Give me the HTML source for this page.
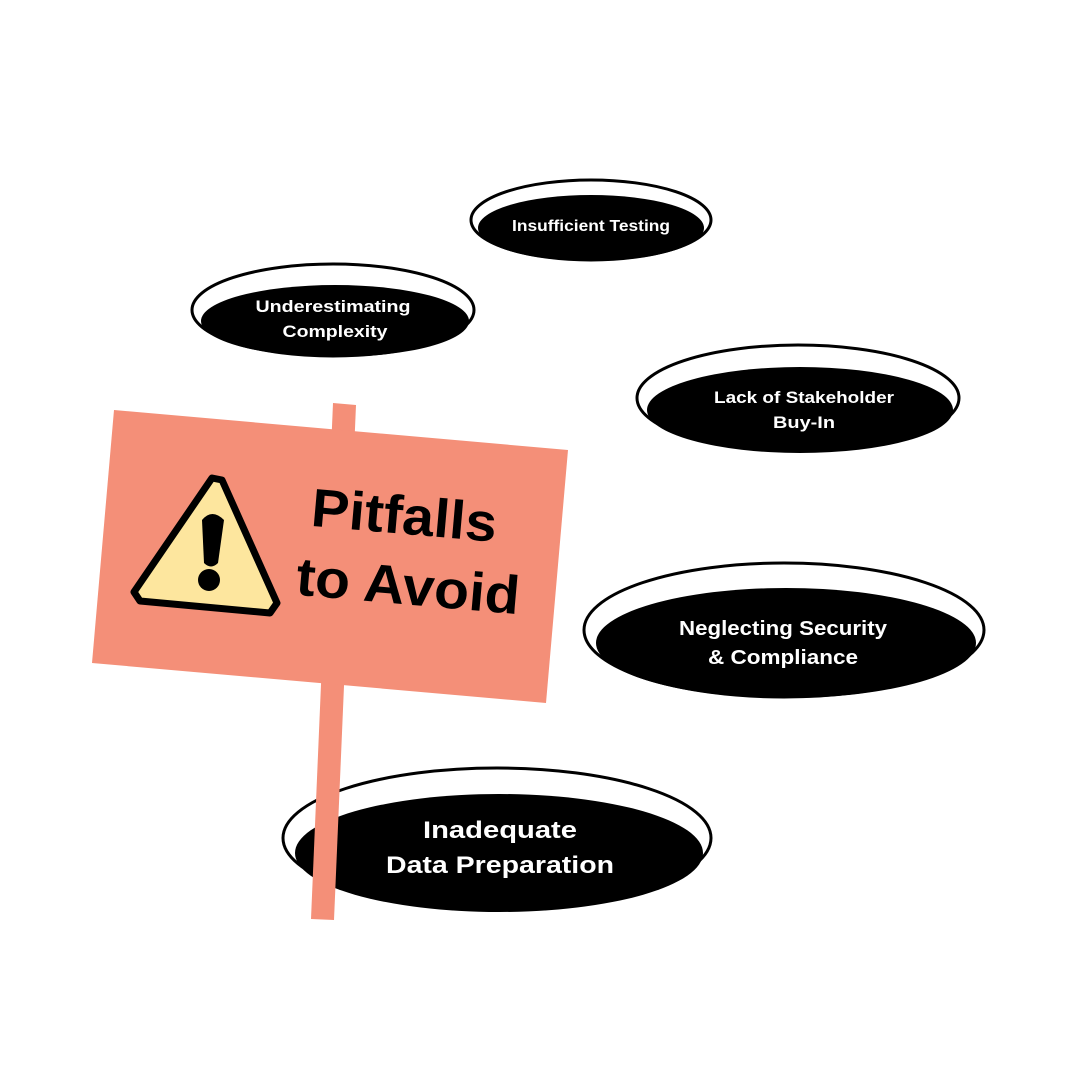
<!DOCTYPE html>
<html><head><meta charset="utf-8"><style>
html,body{margin:0;padding:0;background:#fff}
svg{display:block}
text{font-family:"Liberation Sans",sans-serif;font-weight:bold;fill:#fff;text-anchor:middle}
</style></head><body>
<svg width="1080" height="1080" viewBox="0 0 1080 1080">
<rect width="1080" height="1080" fill="#fff"/>
<g stroke="#000" stroke-width="3">
<ellipse cx="591" cy="220" rx="120" ry="40" fill="#fff"/>
<ellipse cx="333" cy="310" rx="141" ry="46" fill="#fff"/>
<ellipse cx="798" cy="398" rx="161" ry="53" fill="#fff"/>
<ellipse cx="784" cy="630" rx="200" ry="67" fill="#fff"/>
<ellipse cx="497" cy="838" rx="214" ry="70" fill="#fff"/>
</g>
<g fill="#000">
<ellipse cx="591" cy="228" rx="113" ry="33"/>
<ellipse cx="335" cy="321" rx="134" ry="36"/>
<ellipse cx="800" cy="410" rx="153" ry="43"/>
<ellipse cx="786" cy="643" rx="190" ry="55"/>
<ellipse cx="499" cy="853" rx="204" ry="59"/>
</g>
<text x="591" y="231" font-size="16" textLength="158" lengthAdjust="spacingAndGlyphs">Insufficient Testing</text>
<text x="333" y="312" font-size="17" textLength="155" lengthAdjust="spacingAndGlyphs">Underestimating</text>
<text x="335" y="337" font-size="17" textLength="105" lengthAdjust="spacingAndGlyphs">Complexity</text>
<text x="804" y="403" font-size="17" textLength="180" lengthAdjust="spacingAndGlyphs">Lack of Stakeholder</text>
<text x="804" y="428" font-size="17" textLength="62" lengthAdjust="spacingAndGlyphs">Buy-In</text>
<text x="783" y="635" font-size="20" textLength="208" lengthAdjust="spacingAndGlyphs">Neglecting Security</text>
<text x="783" y="664" font-size="20" textLength="150" lengthAdjust="spacingAndGlyphs">&amp; Compliance</text>
<text x="500" y="838" font-size="24" textLength="154" lengthAdjust="spacingAndGlyphs">Inadequate</text>
<text x="500" y="873" font-size="24" textLength="228" lengthAdjust="spacingAndGlyphs">Data Preparation</text>
<polygon points="333,403 356,405 334,920 311,919" fill="#f48f78"/>
<polygon points="114,410 568,450 546,703 92,663" fill="#f48f78"/>
<polygon points="212,478 222,480 277,603 270,613 140,601 134,592" fill="#fde69e" stroke="#000" stroke-width="7" stroke-linejoin="round"/>
<path d="M202,520 Q212,508 224,520 L218,563 Q211,570 204,563 Z" fill="#000"/>
<circle cx="209" cy="580" r="11" fill="#000"/>
<g transform="rotate(5 415 565)">
<text x="400" y="535" font-size="54" style="fill:#000" textLength="186" lengthAdjust="spacingAndGlyphs">Pitfalls</text>
<text x="410" y="605" font-size="54" style="fill:#000" textLength="224" lengthAdjust="spacingAndGlyphs">to Avoid</text>
</g>
</svg>
</body></html>
